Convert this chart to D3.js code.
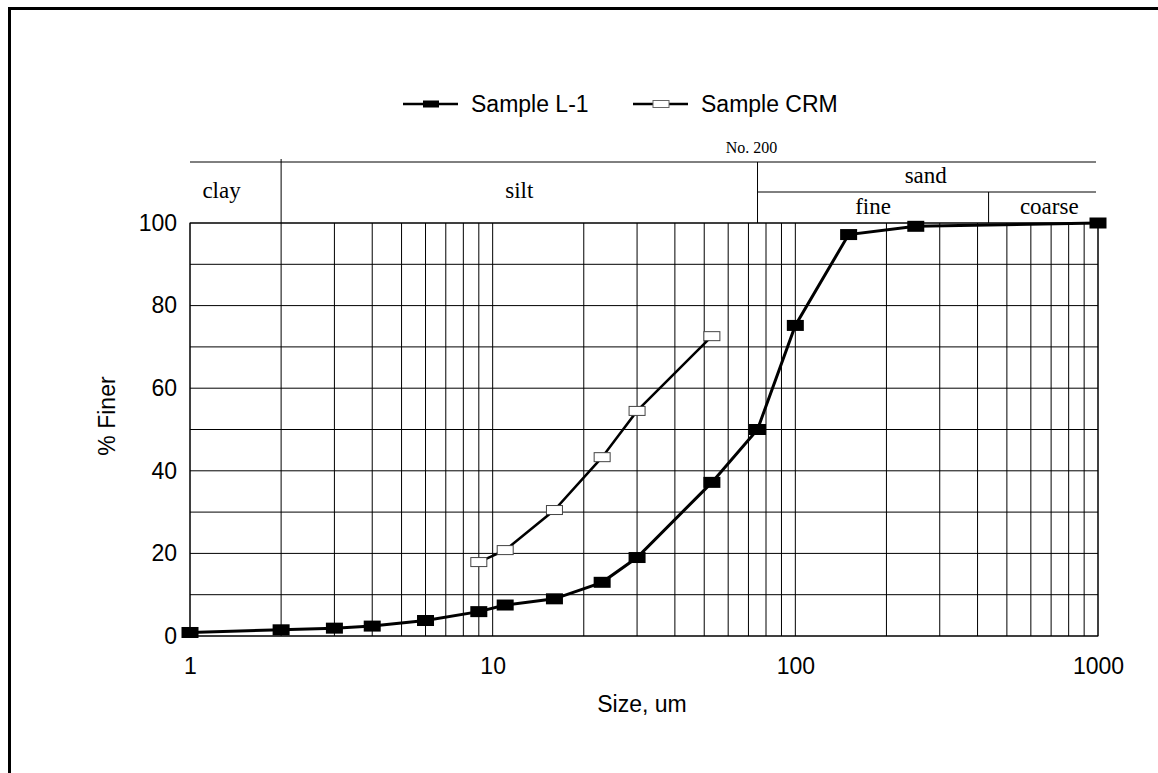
<!DOCTYPE html>
<html>
<head>
<meta charset="utf-8">
<script src="https://cdn.jsdelivr.net/npm/d3@7"></script>
<style>
  body { margin: 0; background: #fff; }
  .sans { font-family: "Liberation Sans", Arial, sans-serif; }
  .serif { font-family: "Liberation Serif", "Times New Roman", serif; }
</style>
</head>
<body>
<div id="chart"></div>
<script>
// grain size data (um, % finer)
var sizesL1 = [1, 2, 3, 4, 6, 9, 11, 16, 23, 30, 53, 75, 100, 150, 250, 1000];
var finerL1 = [0.85, 1.5, 1.9, 2.4, 3.75, 5.9, 7.5, 9, 13, 19, 37.2, 50, 75.2, 97.2, 99.2, 100];
var sizesCRM = [9, 11, 16, 23, 30, 53];
var finerCRM = [17.9, 20.8, 30.5, 43.3, 54.5, 72.6];

var seriesNames = ["Sample L-1", "Sample CRM"];
var yTicks = [0, 20, 40, 60, 80, 100];
var xTicks = [1, 10, 100, 1000];

// soil classification boundaries (um)
var clayLimit = 2;
var no200 = 75;
var fineCoarse = 435;

var svgWidth = 1158;
var svgHeight = 773;

var margin = { top: 223, right: 60, bottom: 137, left: 190 };
var width = 1098 - margin.left;
var height = 636 - margin.top;

var svg = d3.select("#chart")
  .append("svg")
  .attr("width", svgWidth)
  .attr("height", svgHeight);

// outer frame (runs off the right and bottom)
svg.append("rect")
  .attr("x", 9.5)
  .attr("y", 8.5)
  .attr("width", 1300)
  .attr("height", 1000)
  .attr("fill", "none")
  .attr("stroke", "#000")
  .attr("stroke-width", 3);

var chartGroup = svg.append("g")
  .attr("transform", `translate(${margin.left}, ${margin.top})`);

var xScale = d3.scaleLog().domain([1, 1000]).range([0, width]);
var yScale = d3.scaleLinear().domain([0, 100]).range([height, 0]);

// grid
chartGroup.append("g")
  .selectAll("line")
  .data(d3.range(0, 101, 10))
  .enter()
  .append("line")
  .attr("x1", 0)
  .attr("x2", width)
  .attr("y1", d => yScale(d))
  .attr("y2", d => yScale(d))
  .attr("stroke", "#000")
  .attr("stroke-width", 1);

chartGroup.append("g")
  .selectAll("line")
  .data(xScale.ticks())
  .enter()
  .append("line")
  .attr("x1", d => xScale(d))
  .attr("x2", d => xScale(d))
  .attr("y1", 0)
  .attr("y2", height)
  .attr("stroke", "#000")
  .attr("stroke-width", 1);

chartGroup.append("rect")
  .attr("width", width)
  .attr("height", height)
  .attr("fill", "none")
  .attr("stroke", "#000")
  .attr("stroke-width", 1);

// header boxes: clay / silt / sand
var hdr = chartGroup.append("g").attr("stroke", "#000").attr("stroke-width", 1);
hdr.append("line").attr("x1", 0).attr("x2", width - 2).attr("y1", -61).attr("y2", -61);
hdr.append("line").attr("x1", xScale(no200)).attr("x2", width - 2).attr("y1", -31).attr("y2", -31);
hdr.append("line").attr("x1", xScale(clayLimit)).attr("x2", xScale(clayLimit)).attr("y1", -64).attr("y2", 0);
hdr.append("line").attr("x1", xScale(no200)).attr("x2", xScale(no200)).attr("y1", -61).attr("y2", 0);
hdr.append("line").attr("x1", xScale(fineCoarse)).attr("x2", xScale(fineCoarse)).attr("y1", -31).attr("y2", 0);

function serifLabel(x, y, txt, size) {
  chartGroup.append("text")
    .attr("class", "serif")
    .attr("x", x)
    .attr("y", y)
    .attr("text-anchor", "middle")
    .attr("font-size", size)
    .text(txt);
}
serifLabel((0 + xScale(clayLimit)) / 2 - 14, -25, "clay", 23);
serifLabel((xScale(clayLimit) + xScale(no200)) / 2, -25, "silt", 23);
serifLabel((xScale(no200) + width) / 2 - 2, -40, "sand", 23);
serifLabel((xScale(no200) + xScale(fineCoarse)) / 2, -9, "fine", 23);
serifLabel((xScale(fineCoarse) + width) / 2 + 6, -9, "coarse", 23);
serifLabel(xScale(no200) - 6, -70, "No. 200", 16);

// axes
var leftAxis = d3.axisLeft(yScale).tickValues(yTicks).tickSize(0).tickPadding(13);
var yAxis = chartGroup.append("g").call(leftAxis);
yAxis.select(".domain").remove();
yAxis.selectAll("text")
  .attr("class", "sans")
  .attr("font-size", 23)
  .attr("fill", "#000");

var bottomAxis = d3.axisBottom(xScale).tickValues(xTicks).tickFormat(d3.format("d")).tickSize(0).tickPadding(22);
var xAxis = chartGroup.append("g")
  .attr("transform", `translate(0, ${height})`)
  .call(bottomAxis);
xAxis.select(".domain").remove();
xAxis.selectAll("text")
  .attr("class", "sans")
  .attr("font-size", 23)
  .attr("fill", "#000");

chartGroup.append("text")
  .attr("class", "sans")
  .attr("transform", `translate(${-75}, ${193}) rotate(-90)`)
  .attr("text-anchor", "middle")
  .attr("font-size", 23)
  .text("% Finer");

chartGroup.append("text")
  .attr("class", "sans")
  .attr("x", 452)
  .attr("y", 489)
  .attr("text-anchor", "middle")
  .attr("font-size", 23)
  .text("Size, um");

// series
var line = d3.line()
  .x(d => xScale(d[0]))
  .y(d => yScale(d[1]));

var dataL1 = sizesL1.map((s, i) => [s, finerL1[i]]);
var dataCRM = sizesCRM.map((s, i) => [s, finerCRM[i]]);

chartGroup.append("path")
  .datum(dataCRM)
  .attr("d", line)
  .attr("fill", "none")
  .attr("stroke", "#000")
  .attr("stroke-width", 2.5);

chartGroup.selectAll(".crm")
  .data(dataCRM)
  .enter()
  .append("rect")
  .attr("class", "crm")
  .attr("x", d => xScale(d[0]) - 8)
  .attr("y", d => yScale(d[1]) - 4.5)
  .attr("width", 16)
  .attr("height", 9)
  .attr("fill", "#fff")
  .attr("stroke", "#444")
  .attr("stroke-width", 1);

chartGroup.append("path")
  .datum(dataL1)
  .attr("d", line)
  .attr("fill", "none")
  .attr("stroke", "#000")
  .attr("stroke-width", 3);

chartGroup.selectAll(".l1")
  .data(dataL1)
  .enter()
  .append("rect")
  .attr("class", "l1")
  .attr("x", d => xScale(d[0]) - 8.5)
  .attr("y", d => yScale(d[1]) - 5.5)
  .attr("width", 17)
  .attr("height", 11)
  .attr("fill", "#000");

// legend
var legend = svg.append("g").attr("transform", "translate(403, 104)");
var legendX = [0, 230];
seriesNames.forEach(function(name, i) {
  var g = legend.append("g").attr("transform", `translate(${legendX[i]}, 0)`);
  g.append("line")
    .attr("x1", 0).attr("x2", 55)
    .attr("y1", 0).attr("y2", 0)
    .attr("stroke", "#000")
    .attr("stroke-width", 2.5);
  g.append("rect")
    .attr("x", 20).attr("y", -3.5)
    .attr("width", 16).attr("height", 7)
    .attr("fill", i === 0 ? "#000" : "#fff")
    .attr("stroke", i === 0 ? "#000" : "#666")
    .attr("stroke-width", i === 0 ? 0 : 1);
  g.append("text")
    .attr("class", "sans")
    .attr("x", 68)
    .attr("y", 8)
    .attr("font-size", 23)
    .text(name);
});
</script>
</body>
</html>
